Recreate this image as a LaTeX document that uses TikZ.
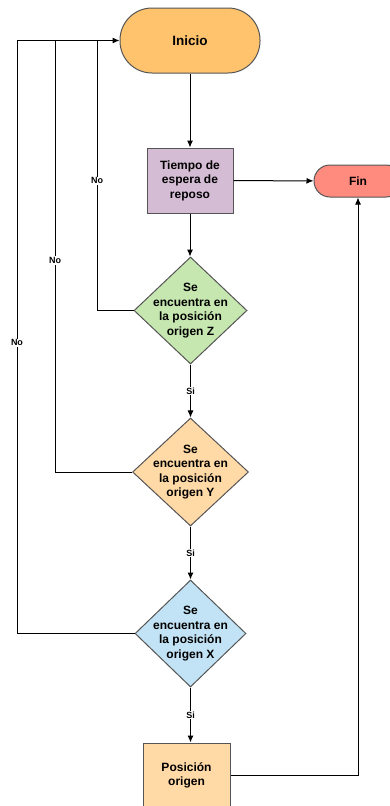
\documentclass[tikz,border=0pt]{standalone}
\usepackage{fontspec}
\setmainfont{Liberation Sans}
\usetikzlibrary{arrows.meta,shapes.geometric}
\definecolor{cIni}{HTML}{FFC36E}
\definecolor{cTie}{HTML}{D5BCD5}
\definecolor{cFin}{HTML}{FF8A7E}
\definecolor{cZ}{HTML}{C6E8B0}
\definecolor{cY}{HTML}{FFD9A6}
\definecolor{cX}{HTML}{C2E3F5}
\definecolor{cBord}{HTML}{555555}
\tikzset{
  box/.style={draw=cBord,line width=1pt,inner sep=0pt,align=center,font=\bfseries\fontsize{12}{14.5}\selectfont},
  term/.style={box,rounded corners=#1},
  diam/.style={draw=cBord,line width=1pt,shape=diamond,inner sep=0pt,minimum width=113pt,minimum height=107pt},
  dtext/.style={inner sep=0pt,align=center,font=\bfseries\fontsize{12}{14.5}\selectfont},
  conn/.style={line width=1pt,-{Latex[length=7pt,width=6pt]}},
  line/.style={line width=1pt},
  lab/.style={fill=white,inner sep=1pt,font=\bfseries\fontsize{9}{10}\selectfont}
}
\begin{document}
\begin{tikzpicture}[x=1pt,y=-1pt]
\useasboundingbox (0,0) rectangle (390,806);
\node[term=32pt,fill=cIni,minimum width=140pt,minimum height=65pt,font=\bfseries\fontsize{13.5}{15}\selectfont] (ini) at (190,40.5) {Inicio};
\node[box,fill=cTie,minimum width=86pt,minimum height=65pt] (tie) at (190,180.5) {Tiempo de\\espera de\\reposo};
\node[term=16pt,fill=cFin,minimum width=88pt,minimum height=32pt] (fin) at (358,181) {Fin};
\node[diam,fill=cZ] (dz) at (190.5,310.5) {};
\node[dtext] (tz) at (dz) {Se\\encuentra en\\la posición\\origen Z};
\node[diam,fill=cY,minimum width=116pt,minimum height=108pt] (dy) at (190.5,472) {};
\node[dtext] (ty) at (dy) {Se\\encuentra en\\la posición\\origen Y};
\node[diam,fill=cX,minimum width=111pt] (dx) at (190.5,633.5) {};
\node[dtext] (tx) at (dx) {Se\\encuentra en\\la posición\\origen X};
\node[box,fill=cY,minimum width=87pt,minimum height=65pt] (pos) at (186.5,775.5) {Posición\\origen};
\coordinate (c1) at (97,40.5);
\coordinate (c2) at (55,40.5);
\coordinate (c3) at (17,40.5);
\draw[conn] (ini) -- (ini |- tie.north);
\draw[conn] (tie) -- (fin);
\draw[conn] (tie.south) -- (tie.south |- dz.north);
\draw[conn] (dz) -- node[lab] (s1) {Si} (dy);
\draw[conn] (dy.south) -- node[lab] (s2) {Si} (dx.north);
\draw[conn] (dx.south) -- node[lab] (s3) {Si} (dx.south |- pos.north);
\draw[conn] (pos.east) -| (fin.south);
\draw[line] (dz.west) -- (dz.west -| c1) -- node[lab,pos=0.48] (n1) {No} (c1);
\draw[line] (dy.west) -- (dy.west -| c2) -- node[lab,pos=0.49] (n2) {No} (c2);
\draw[line] (dx.west) -- (dx.west -| c3) -- node[lab,pos=0.49] (n3) {No} (c3);
\draw[conn] (c3) -- (ini.west);
\end{tikzpicture}
\end{document}
